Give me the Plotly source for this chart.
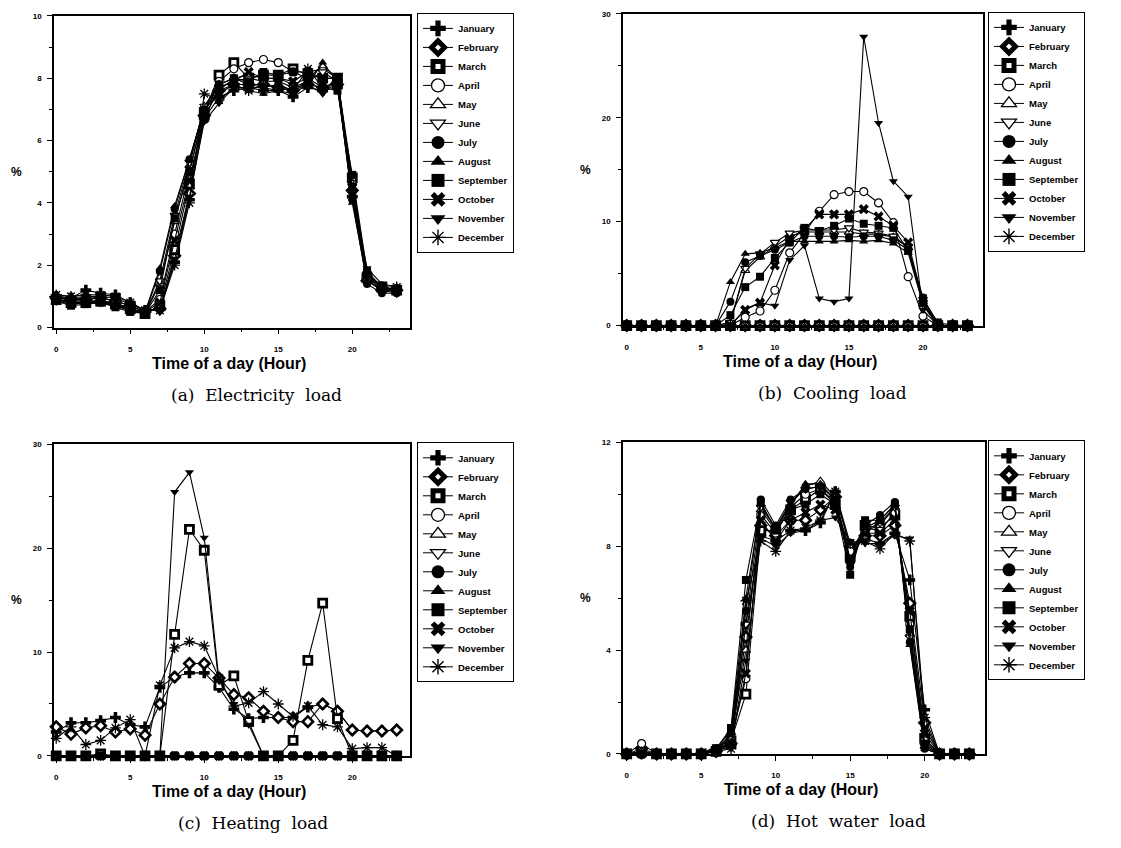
import plotly.graph_objects as go

hours = list(range(24))
months = ["January", "February", "March", "April", "May", "June", "July",
          "August", "September", "October", "November", "December"]
symbols = ["cross", "diamond", "square", "circle", "triangle-up",
           "triangle-down", "circle", "triangle-up", "square", "x",
           "triangle-down", "asterisk-open"]
fills = ["black", "white", "white", "white", "white", "white",
         "black", "black", "black", "black", "black", "black"]
edge_widths = [0, 2.6, 2.8, 1.2, 1.2, 1.2, 0, 0, 0, 0, 0, 1.3]
legend_edge_widths = [0, 5, 5, 1.3, 1.3, 1.3, 0, 0, 0, 0, 0, 1.4]
legend_sizes = [13, 10, 10, 13, 13, 13, 13, 13, 13, 13, 13, 13]

# (a) Electricity load, % per hour, one row per month
elec = [
    [1.0, 0.95, 1.2, 1.1, 1.05, 0.8, 0.55, 0.6, 2.1, 4.1, 6.7, 7.4, 7.6, 7.7, 7.6, 7.6, 7.4, 7.7, 7.6, 7.7, 4.2, 1.6, 1.3, 1.2],
    [0.95, 0.9, 0.9, 0.95, 0.85, 0.7, 0.5, 0.6, 2.3, 4.3, 6.8, 7.6, 7.8, 7.8, 7.8, 7.7, 7.6, 7.8, 7.7, 7.8, 4.4, 1.5, 1.2, 1.2],
    [0.9, 0.8, 0.8, 0.85, 0.75, 0.6, 0.45, 0.7, 2.5, 4.6, 6.9, 8.1, 8.5, 8.0, 8.1, 8.1, 8.3, 8.1, 8.0, 8.0, 4.8, 1.6, 1.3, 1.2],
    [0.9, 0.85, 0.85, 0.85, 0.8, 0.6, 0.5, 0.9, 3.0, 5.0, 7.0, 7.9, 8.3, 8.5, 8.6, 8.5, 8.2, 8.2, 8.3, 8.0, 4.6, 1.7, 1.3, 1.2],
    [0.9, 0.8, 0.8, 0.8, 0.75, 0.55, 0.45, 1.4, 3.4, 5.2, 7.1, 7.8, 8.0, 8.1, 8.0, 8.0, 7.8, 8.0, 8.4, 8.0, 4.5, 1.6, 1.2, 1.2],
    [0.85, 0.75, 0.8, 0.8, 0.7, 0.55, 0.45, 1.5, 3.6, 5.3, 7.1, 7.7, 7.9, 8.0, 7.9, 7.9, 7.7, 7.9, 8.2, 7.9, 4.3, 1.5, 1.2, 1.1],
    [0.9, 0.8, 0.8, 0.85, 0.7, 0.55, 0.45, 1.8, 3.8, 5.4, 7.0, 7.6, 8.0, 7.8, 7.7, 7.8, 7.6, 7.9, 7.6, 7.8, 4.1, 1.4, 1.1, 1.1],
    [0.9, 0.85, 0.85, 0.85, 0.75, 0.6, 0.5, 1.9, 3.9, 5.4, 7.0, 7.5, 7.8, 7.6, 7.5, 7.6, 7.7, 7.8, 8.5, 7.9, 4.0, 1.5, 1.2, 1.2],
    [0.85, 0.7, 0.75, 0.8, 0.65, 0.5, 0.45, 1.2, 3.5, 5.0, 6.9, 7.8, 8.0, 7.9, 8.2, 8.1, 8.2, 8.0, 7.7, 7.6, 4.9, 1.8, 1.3, 1.2],
    [0.95, 0.9, 0.95, 0.95, 0.85, 0.7, 0.5, 0.8, 2.8, 4.7, 6.7, 7.7, 7.9, 8.2, 8.0, 8.0, 7.9, 8.2, 8.0, 8.0, 4.5, 1.7, 1.3, 1.2],
    [1.0, 0.95, 1.0, 1.0, 0.95, 0.75, 0.55, 0.6, 2.2, 4.2, 6.6, 7.2, 7.7, 7.7, 7.7, 7.6, 7.5, 7.8, 7.5, 8.1, 4.3, 1.9, 1.4, 1.3],
    [1.05, 1.0, 1.05, 1.05, 1.0, 0.8, 0.55, 0.55, 2.0, 4.0, 7.5, 7.3, 7.7, 7.6, 7.8, 7.7, 7.6, 8.3, 7.7, 7.9, 4.2, 1.7, 1.3, 1.3],
]

# (b) Cooling load
cool = [
    [0] * 24,
    [0] * 24,
    [0] * 24,
    [0, 0, 0, 0, 0, 0, 0, 0, 0.8, 1.4, 3.4, 7.0, 8.9, 11.0, 12.6, 12.9, 12.9, 11.8, 9.9, 4.7, 0.9, 0, 0, 0],
    [0, 0, 0, 0, 0, 0, 0, 0.3, 5.3, 6.6, 7.6, 8.6, 9.0, 9.0, 9.0, 9.0, 8.8, 8.8, 8.5, 7.5, 2.0, 0, 0, 0],
    [0, 0, 0, 0, 0, 0, 0, 0.3, 5.5, 6.9, 8.0, 8.9, 9.2, 9.2, 9.2, 9.4, 9.0, 8.9, 8.6, 7.6, 2.2, 0, 0, 0],
    [0, 0, 0, 0, 0, 0, 0, 2.3, 6.1, 6.7, 7.3, 8.0, 8.6, 8.6, 8.6, 8.5, 8.6, 8.6, 8.2, 7.3, 2.7, 0, 0, 0],
    [0, 0, 0, 0, 0, 0, 0, 4.2, 6.9, 7.0, 7.5, 8.1, 8.1, 8.1, 8.1, 8.2, 8.1, 8.2, 7.9, 7.0, 2.0, 0, 0, 0],
    [0, 0, 0, 0, 0, 0, 0, 1.0, 3.7, 4.7, 6.5, 8.0, 9.4, 9.1, 9.6, 10.3, 9.8, 9.6, 9.4, 7.2, 2.6, 0.3, 0, 0],
    [0, 0, 0, 0, 0, 0, 0, 0, 1.5, 2.2, 5.8, 8.4, 9.3, 10.7, 10.7, 10.7, 11.2, 10.5, 9.6, 8.0, 2.4, 0, 0, 0],
    [0, 0, 0, 0, 0, 0, 0, 0, 1.6, 2.2, 1.9, 6.3, 7.7, 2.6, 2.3, 2.6, 27.8, 19.5, 13.9, 12.4, 1.5, 0, 0, 0],
    [0] * 24,
]

# (c) Heating load
heat = [
    [2.3, 3.2, 3.2, 3.4, 3.7, 3.0, 2.8, 6.6, 7.6, 8.0, 8.0, 6.6, 4.5, 3.6, 3.7, 3.7, 3.7, 4.7, 5.0, 4.3, 2.5, 2.4, 2.4, 2.5],
    [2.8, 2.1, 2.7, 2.9, 2.3, 2.6, 2.0, 5.0, 7.6, 8.9, 8.9, 7.5, 5.9, 5.6, 4.3, 3.7, 3.3, 3.3, 5.0, 4.3, 2.5, 2.4, 2.4, 2.5],
    [0, 0, 0, 0.2, 0, 0, 0, 0, 11.7, 21.8, 19.8, 6.8, 7.7, 3.3, 0, 0, 1.5, 9.2, 14.7, 3.6, 0, 0, 0, 0],
    [0] * 24,
    [0] * 24,
    [0] * 24,
    [0] * 24,
    [0] * 24,
    [0] * 24,
    [0] * 24,
    [0, 0, 0, 0, 0, 0, 0, 0, 25.4, 27.3, 21.0, 7.2, 5.0, 3.0, 0, 0, 0, 0, 0, 0, 0, 0, 0, 0],
    [1.7, 2.8, 1.1, 1.5, 2.7, 3.5, 0, 6.8, 10.4, 11.0, 10.6, 7.5, 4.8, 5.1, 6.2, 5.0, 3.8, 4.8, 3.0, 2.8, 0.7, 0.8, 0.8, 0],
]

# (d) Hot water load
hotw = [
    [0, 0, 0, 0, 0, 0, 0.1, 0.3, 5.0, 8.4, 8.2, 8.6, 8.6, 8.9, 10.1, 7.9, 8.3, 8.1, 8.5, 6.7, 1.7, 0, 0, 0],
    [0, 0.2, 0, 0, 0, 0, 0.1, 0.4, 4.5, 8.8, 8.4, 9.0, 9.0, 9.4, 9.9, 8.0, 8.4, 8.4, 8.8, 5.8, 1.2, 0, 0, 0],
    [0, 0.1, 0, 0, 0, 0, 0.1, 0.5, 2.3, 8.6, 8.6, 9.4, 9.8, 10.2, 9.6, 7.6, 8.8, 8.7, 9.2, 5.3, 0.6, 0, 0, 0],
    [0, 0.4, 0, 0, 0, 0, 0.2, 0.6, 2.9, 9.2, 8.5, 9.5, 10.0, 10.2, 9.7, 7.8, 8.7, 8.6, 9.3, 5.0, 0.5, 0, 0, 0],
    [0, 0.1, 0, 0, 0, 0, 0.1, 0.6, 4.0, 9.4, 8.6, 9.6, 10.3, 10.5, 9.9, 7.5, 8.6, 8.8, 9.5, 4.6, 0.3, 0, 0, 0],
    [0, 0, 0, 0, 0, 0, 0.2, 0.7, 5.0, 9.5, 8.7, 9.7, 10.2, 10.3, 9.8, 7.3, 8.6, 8.9, 9.5, 4.5, 0.3, 0, 0, 0],
    [0, 0, 0, 0, 0, 0, 0.1, 0.8, 5.5, 9.8, 8.8, 9.8, 10.2, 10.3, 9.8, 7.2, 8.8, 9.2, 9.7, 4.3, 0.2, 0, 0, 0],
    [0, 0, 0, 0, 0, 0, 0.2, 0.9, 6.0, 9.6, 8.7, 9.6, 10.4, 10.4, 9.8, 7.4, 8.7, 9.0, 9.6, 4.2, 0.2, 0, 0, 0],
    [0, 0, 0, 0, 0, 0, 0.2, 1.0, 6.7, 9.7, 8.6, 9.4, 9.6, 10.0, 9.6, 6.9, 9.0, 9.0, 9.6, 4.8, 0.4, 0, 0, 0],
    [0, 0, 0, 0, 0, 0, 0.1, 0.4, 3.1, 9.0, 8.2, 9.0, 9.3, 9.6, 9.4, 7.5, 8.5, 8.5, 9.0, 5.5, 0.8, 0, 0, 0],
    [0, 0, 0, 0, 0, 0, 0.3, 0.3, 3.6, 8.3, 8.0, 8.5, 8.6, 9.0, 9.1, 8.2, 8.1, 8.1, 8.4, 8.3, 1.0, 0, 0, 0],
    [0, 0, 0, 0, 0, 0, 0.1, 0.2, 5.9, 8.2, 7.8, 8.6, 8.7, 9.0, 10.1, 8.1, 8.2, 7.9, 8.5, 8.2, 1.4, 0, 0, 0],
]

captions = ["(a)&nbsp; Electricity&nbsp; load", "(b)&nbsp; Cooling&nbsp; load",
            "(c)&nbsp; Heating&nbsp; load", "(d)&nbsp; Hot&nbsp; water&nbsp; load"]
x_title = "Time of a day (Hour)"
y_title = "%"

W, H = 1121, 848
def px(x): return x / W
def py(y): return 1 - y / H

panels = [
    dict(data=elec, ax="", box=(54, 410, 12, 327), xr=[-0.15, 23.9], ymax=10, dt=2, legbox=(417, 9), cap=256),
    dict(data=cool, ax="2", box=(623, 983, 10, 325), xr=[-0.25, 24.05], ymax=30, dt=10, legbox=(988, 8), cap=832),
    dict(data=heat, ax="3", box=(54, 410, 445, 760), xr=[-0.15, 23.9], ymax=30, dt=10, legbox=(417, 443), cap=253),
    dict(data=hotw, ax="4", box=(623, 985, 443, 758), xr=[-0.25, 24.05], ymax=12, dt=4, legbox=(988, 441), cap=838),
]

FONT = "Liberation Sans, Arial, sans-serif"
fig = go.Figure()
layout = dict(width=W, height=H, margin=dict(l=0, r=0, t=0, b=0),
              paper_bgcolor="white", plot_bgcolor="white", showlegend=True,
              annotations=[])

for i, p in enumerate(panels):
    leg = "legend" if p["ax"] == "" else "legend" + p["ax"]
    for m, name in enumerate(months):
        sym = symbols[m]
        fig.add_trace(go.Scatter(
            x=hours, y=p["data"][m], name=name, mode="lines+markers",
            xaxis="x" + p["ax"], yaxis="y" + p["ax"], legend=leg, showlegend=False,
            cliponaxis=False, legendgroup=name + p["ax"],
            line=dict(color="black", width=1.1),
            marker=dict(symbol=sym, color=fills[m],
                        size=9 if sym in ("x", "cross", "asterisk-open") else 8,
                        line=dict(color="black", width=edge_widths[m])),
        ))
        # legend entry (no data points; larger legend symbol)
        fig.add_trace(go.Scatter(
            x=[None], y=[None], name=name, mode="lines+markers",
            xaxis="x" + p["ax"], yaxis="y" + p["ax"], legend=leg, showlegend=True,
            legendgroup=name + p["ax"],
            line=dict(color="black", width=1),
            marker=dict(symbol=sym, color=fills[m], size=legend_sizes[m],
                        line=dict(color="black", width=legend_edge_widths[m])),
        ))
    x0, x1, y0, y1 = p["box"]
    axis_common = dict(showgrid=False, zeroline=False, showline=True, linecolor="black",
                       linewidth=1.5, mirror=True, ticks="outside", tickcolor="black",
                       tickwidth=1.3, ticklen=5,
                       tickfont=dict(family=FONT, size=8, color="black", weight="bold"))
    layout["xaxis" + p["ax"]] = dict(axis_common, domain=[px(x0), px(x1)], range=p["xr"],
                                     tickvals=[0, 5, 10, 15, 20], ticklabelstandoff=8,
                                     minor=dict(tickvals=[2.5, 7.5, 12.5, 17.5, 22.5], ticks="outside",
                                                ticklen=3, tickcolor="black"),
                                     anchor="y" + p["ax"])
    layout["yaxis" + p["ax"]] = dict(axis_common, domain=[py(y1), py(y0)], range=[0, p["ymax"]],
                                     dtick=p["dt"], tick0=0, ticklabelstandoff=4,
                                     minor=dict(dtick=p["dt"] / 2, ticks="outside", ticklen=3,
                                                tickcolor="black"),
                                     anchor="x" + p["ax"])
    lx, ly = p["legbox"]
    layout[leg] = dict(x=px(lx), y=py(ly), xanchor="left", yanchor="top",
                       bordercolor="black", borderwidth=1, bgcolor="white",
                       font=dict(family=FONT, size=9.5, color="black", weight="bold"),
                       tracegroupgap=0)
    cx = (x0 + x1) / 2
    layout["annotations"].append(dict(text="<b>" + x_title + "</b>", x=px(cx - 3), y=py(y1 + 36),
                                      xref="paper", yref="paper", showarrow=False,
                                      xanchor="center", yanchor="middle",
                                      font=dict(family=FONT, size=16, color="black")))
    layout["annotations"].append(dict(text="<b>" + y_title + "</b>", x=px(x0 - 38), y=py((y0 + y1) / 2),
                                      xref="paper", yref="paper", showarrow=False,
                                      xanchor="center", yanchor="middle",
                                      font=dict(family=FONT, size=12, color="black")))
    layout["annotations"].append(dict(text=captions[i], x=px(p["cap"]), y=py(y1 + 68),
                                      xref="paper", yref="paper", showarrow=False,
                                      xanchor="center", yanchor="middle",
                                      font=dict(family="DejaVu Serif, serif", size=17, color="black")))

fig.update_layout(**layout)
fig.write_html("out.html", config={"displayModeBar": False})

# remove the default page margin so the figure fills the window exactly
with open("out.html", "r", encoding="utf-8") as f:
    html = f.read()
html = html.replace("<body>", '<body style="margin:0;overflow:hidden;">', 1)
with open("out.html", "w", encoding="utf-8") as f:
    f.write(html)
